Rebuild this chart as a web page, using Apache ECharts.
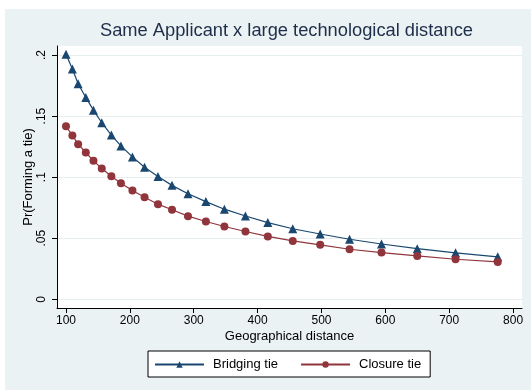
<!DOCTYPE html>
<html>
<head>
<meta charset="utf-8">
<script src="https://cdn.jsdelivr.net/npm/echarts@6/dist/echarts.min.js"></script>
<style>
html,body{margin:0;padding:0;background:#fff;}
#chart{position:absolute;left:5px;top:9px;width:526px;height:381px;}
</style>
</head>
<body>
<div id="chart"></div>
<script>
const titleText = "Same Applicant x large technological distance";
const xTitle = "Geographical distance";
const yTitle = "Pr(Forming a tie)";
const distance = [100, 110, 119, 131, 143, 156, 171, 186, 204, 223, 244, 266, 291, 319, 348, 381, 416, 455, 498, 544, 594, 650, 710, 776];
const bridging = [0.2006, 0.1885, 0.1765, 0.1653, 0.1549, 0.1446, 0.1345, 0.1256, 0.1166, 0.1082, 0.1005, 0.0933, 0.0864, 0.0800, 0.0738, 0.0682, 0.0628, 0.0578, 0.0535, 0.0492, 0.0453, 0.0415, 0.0381, 0.0348];
const closure = [0.1416, 0.1342, 0.1270, 0.1202, 0.1134, 0.1071, 0.1008, 0.0951, 0.0891, 0.0836, 0.0779, 0.0733, 0.0681, 0.0637, 0.0596, 0.0555, 0.0515, 0.0478, 0.0446, 0.0410, 0.0383, 0.0355, 0.0328, 0.0306];
const xTicks = [100, 200, 300, 400, 500, 600, 700, 800];
const yTicks = [0, 0.05, 0.1, 0.15, 0.2];
const yTickLabels = {"0": "0", "0.05": ".05", "0.1": ".1", "0.15": ".15", "0.2": ".2"};
const seriesNames = ["Bridging tie", "Closure tie"];

const FONT = "'Liberation Sans', Arial, Helvetica, sans-serif";
const chart = echarts.init(document.getElementById('chart'), null, {renderer: 'canvas'});
chart.setOption({
  backgroundColor: '#eaf2f3',
  animation: false,
  textStyle: {fontFamily: FONT},
  title: {
    text: titleText,
    left: 90, top: 8,
    textStyle: {fontFamily: FONT, fontSize: 18.3, fontWeight: 'normal', color: '#1e2d4a'}
  },
  grid: {
    left: 52, right: 9, top: 37, bottom: 82,
    show: true, backgroundColor: '#ffffff', borderWidth: 0
  },
  legend: {
    left: 143, top: 342,
    itemWidth: 49, itemHeight: 8, itemGap: 22,
    padding: [7, 9, 6, 6],
    backgroundColor: '#ffffff', borderColor: '#000000', borderWidth: 1, borderRadius: 0,
    textStyle: {fontFamily: FONT, fontSize: 13, color: '#000', padding: [0, 0, 0, 4]},
    data: seriesNames
  },
  xAxis: {
    type: 'value', min: 85.9, max: 814,
    name: xTitle, nameLocation: 'middle', nameGap: 22, nameMoveOverlap: false,
    nameTextStyle: {fontFamily: FONT, fontSize: 13, color: '#000'},
    axisLine: {show: true, onZero: false, lineStyle: {color: '#000', width: 1}},
    axisTick: {show: true, length: 5, lineStyle: {color: '#000'}, customValues: xTicks},
    axisLabel: {fontFamily: FONT, fontSize: 12, color: '#000', margin: 7, customValues: xTicks},
    splitLine: {show: false}
  },
  yAxis: {
    type: 'value', min: -0.0071, max: 0.2074,
    name: yTitle, nameLocation: 'middle', nameGap: 22, nameMoveOverlap: false,
    nameTextStyle: {fontFamily: FONT, fontSize: 13, color: '#000'},
    axisLine: {show: true, onZero: false, lineStyle: {color: '#000', width: 1}},
    axisTick: {show: true, length: 5, lineStyle: {color: '#000'}, customValues: yTicks},
    axisLabel: {
      fontFamily: FONT, fontSize: 12, color: '#000', margin: 9, rotate: 90,
      customValues: yTicks,
      formatter: function (v) { return yTickLabels[String(+v.toFixed(2))]; }
    },
    splitLine: {show: true, lineStyle: {color: '#e6eef0', width: 1}}
  },
  series: [
    {
      name: seriesNames[0], type: 'line',
      data: distance.map((d, i) => [d, bridging[i]]),
      symbol: 'triangle', symbolSize: 9,
      lineStyle: {color: '#1a476f', width: 1.2},
      itemStyle: {color: '#1a476f'}
    },
    {
      name: seriesNames[1], type: 'line',
      data: distance.map((d, i) => [d, closure[i]]),
      symbol: 'circle', symbolSize: 8,
      lineStyle: {color: '#90353b', width: 1.2},
      itemStyle: {color: '#90353b'}
    }
  ]
});
</script>
</body>
</html>
